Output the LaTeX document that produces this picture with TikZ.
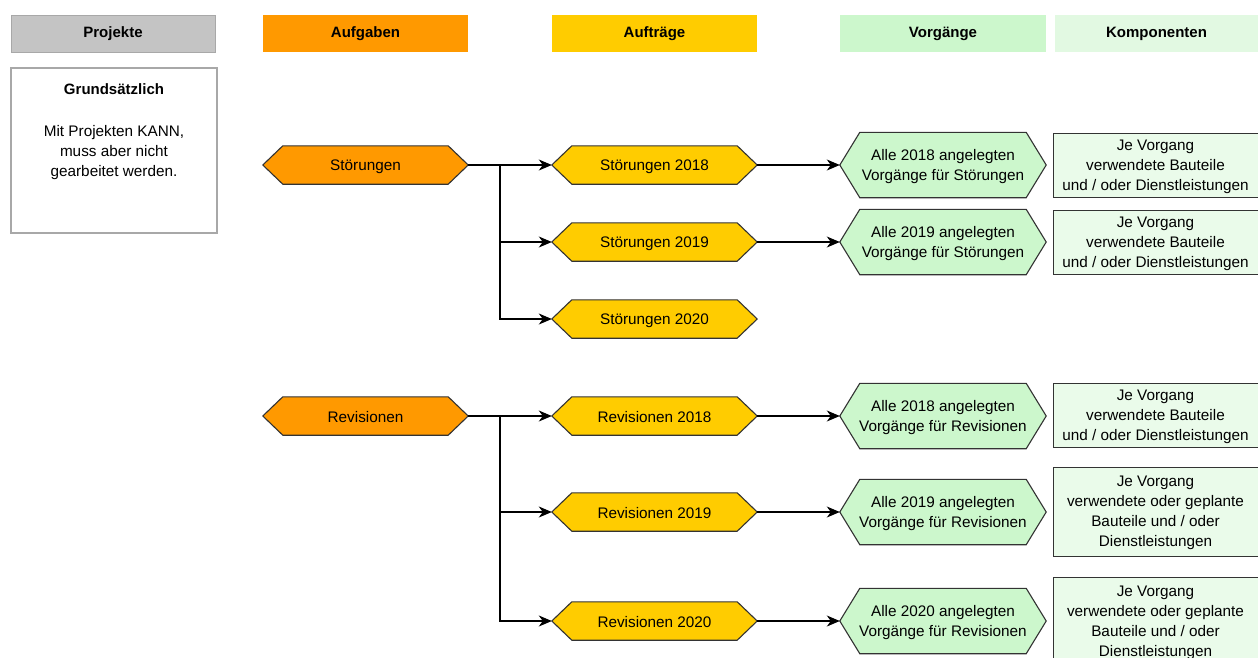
\documentclass[tikz,border=0pt]{standalone}
\usepackage{fontspec}
\setmainfont{Liberation Sans}
\usetikzlibrary{arrows.meta}
\definecolor{grayhead}{HTML}{C4C4C4}
\definecolor{grayline}{HTML}{A8A8A8}
\definecolor{orangefill}{HTML}{FF9900}
\definecolor{yellowfill}{HTML}{FFCC00}
\definecolor{greenfill}{HTML}{CCF7CC}
\definecolor{greenlight}{HTML}{E2F9E2}
\definecolor{greenbox}{HTML}{EAFBEA}
\definecolor{edge}{HTML}{333333}
\tikzset{
  txt/.style={font=\fontsize{15.3}{20}\selectfont, align=center, inner sep=0pt},
  head/.style={txt, font=\fontsize{15}{20}\selectfont\bfseries, minimum height=37pt, inner sep=0pt},
  hexnode/.style={txt, minimum width=205pt, minimum height=38pt},
  vorgnode/.style={txt, minimum width=206pt, minimum height=65pt},
  kompbox/.style={txt, draw=edge, line width=1pt, fill=greenbox, minimum width=205pt},
  arr/.style={draw=black, line width=1.1pt, -{Stealth[length=13pt,width=11pt,inset=4pt]}},
  lbl/.style={txt, yshift=-1.5pt},
}
\newcommand{\hexshape}[3]{%
  \path[fill=#3, draw=edge, line width=1.1pt, line join=miter]
    (#1.west) -- ([xshift=#2]#1.north west) -- ([xshift=-#2]#1.north east)
    -- (#1.east) -- ([xshift=-#2]#1.south east) -- ([xshift=#2]#1.south west) -- cycle;}
\begin{document}
\begin{tikzpicture}[x=1pt,y=-1pt]
\useasboundingbox (0,0) rectangle (1258,657);
\clip (0,0) rectangle (1258,657);
\fill[white] (0,0) rectangle (1258,657);

% headers
\node[head, fill=grayhead, draw=grayline, line width=0.8pt, minimum width=204pt] (hproj) at (113,33.5) {Projekte};
\node[head, fill=orangefill, minimum width=205pt] (haufg) at (365.5,33.5) {Aufgaben};
\node[head, fill=yellowfill, minimum width=205pt] (hauftr) at (654.5,33.5) {Aufträge};
\node[head, fill=greenfill, minimum width=206pt] (hvorg) at (943,33.5) {Vorgänge};
\node[head, fill=greenlight, minimum width=203pt] (hkomp) at (1156.5,33.5) {Komponenten};

% Grundsaetzlich box
\node[draw=grayline, line width=1.2pt, fill=white, minimum width=206pt, minimum height=165pt, inner sep=0pt] (grund) at (114,150.5) {};
\node[txt, font=\fontsize{15}{20}\selectfont\bfseries] (grundt) at (114,89) {Grundsätzlich};
\node[txt] (grundb) at (114,152.5) {Mit Projekten KANN,\\muss aber nicht\\gearbeitet werden.};

% hexagon anchor nodes (shapes drawn below)
\node[hexnode] (stoer) at (365.5,165) {};
\node[hexnode] (st18) at (654.5,165) {};
\node[hexnode] (st19) at (654.5,242) {};
\node[hexnode] (st20) at (654.5,319) {};
\node[hexnode] (rev) at (365.5,416) {};
\node[hexnode] (rv18) at (654.5,416) {};
\node[hexnode] (rv19) at (654.5,512) {};
\node[hexnode] (rv20) at (654.5,621) {};
\node[vorgnode] (vs18) at (943,165) {};
\node[vorgnode] (vs19) at (943,242) {};
\node[vorgnode] (vr18) at (943,416) {};
\node[vorgnode] (vr19) at (943,512) {};
\node[vorgnode] (vr20) at (943,621) {};

\hexshape{stoer}{20pt}{orangefill}
\hexshape{rev}{20pt}{orangefill}
\hexshape{st18}{20pt}{yellowfill}
\hexshape{st19}{20pt}{yellowfill}
\hexshape{st20}{20pt}{yellowfill}
\hexshape{rv18}{20pt}{yellowfill}
\hexshape{rv19}{20pt}{yellowfill}
\hexshape{rv20}{20pt}{yellowfill}
\hexshape{vs18}{20pt}{greenfill}
\hexshape{vs19}{20pt}{greenfill}
\hexshape{vr18}{20pt}{greenfill}
\hexshape{vr19}{20pt}{greenfill}
\hexshape{vr20}{20pt}{greenfill}

% texts on hexagons
\node[lbl] at (stoer) {Störungen};
\node[lbl] at (rev) {Revisionen};
\node[lbl] at (st18) {Störungen 2018};
\node[lbl] at (st19) {Störungen 2019};
\node[lbl] at (st20) {Störungen 2020};
\node[lbl] at (rv18) {Revisionen 2018};
\node[lbl] at (rv19) {Revisionen 2019};
\node[lbl] at (rv20) {Revisionen 2020};
\node[lbl] at (vs18) {Alle 2018 angelegten\\Vorgänge für Störungen};
\node[lbl] at (vs19) {Alle 2019 angelegten\\Vorgänge für Störungen};
\node[lbl] at (vr18) {Alle 2018 angelegten\\Vorgänge für Revisionen};
\node[lbl] at (vr19) {Alle 2019 angelegten\\Vorgänge für Revisionen};
\node[lbl] at (vr20) {Alle 2020 angelegten\\Vorgänge für Revisionen};

% Komponenten boxes
\node[kompbox, minimum height=64pt] (ks18) at (1155.5,165) {};
\node[kompbox, minimum height=64pt] (ks19) at (1155.5,242) {};
\node[kompbox, minimum height=64pt] (kr18) at (1155.5,415) {};
\node[kompbox, minimum height=89pt] (kr19) at (1155.5,511.5) {};
\node[kompbox, minimum height=89pt] (kr20) at (1155.5,621.5) {};
\node[lbl] at (ks18) {Je Vorgang\\verwendete Bauteile\\und / oder Dienstleistungen};
\node[lbl] at (ks19) {Je Vorgang\\verwendete Bauteile\\und / oder Dienstleistungen};
\node[lbl] at (kr18) {Je Vorgang\\verwendete Bauteile\\und / oder Dienstleistungen};
\node[lbl] at (kr19) {Je Vorgang\\verwendete oder geplante\\Bauteile und / oder\\Dienstleistungen};
\node[lbl] at (kr20) {Je Vorgang\\verwendete oder geplante\\Bauteile und / oder\\Dienstleistungen};

% connectors
\coordinate (js) at (500,165);
\coordinate (jr) at (500,416);
\draw[arr] (stoer.east) -- (st18.west);
\draw[arr] (js) |- (st19.west);
\draw[arr] (js) |- (st20.west);
\draw[arr] (rev.east) -- (rv18.west);
\draw[arr] (jr) |- (rv19.west);
\draw[arr] (jr) |- (rv20.west);
\draw[arr] (st18.east) -- (vs18.west);
\draw[arr] (st19.east) -- (vs19.west);
\draw[arr] (rv18.east) -- (vr18.west);
\draw[arr] (rv19.east) -- (vr19.west);
\draw[arr] (rv20.east) -- (vr20.west);
\end{tikzpicture}
\end{document}
